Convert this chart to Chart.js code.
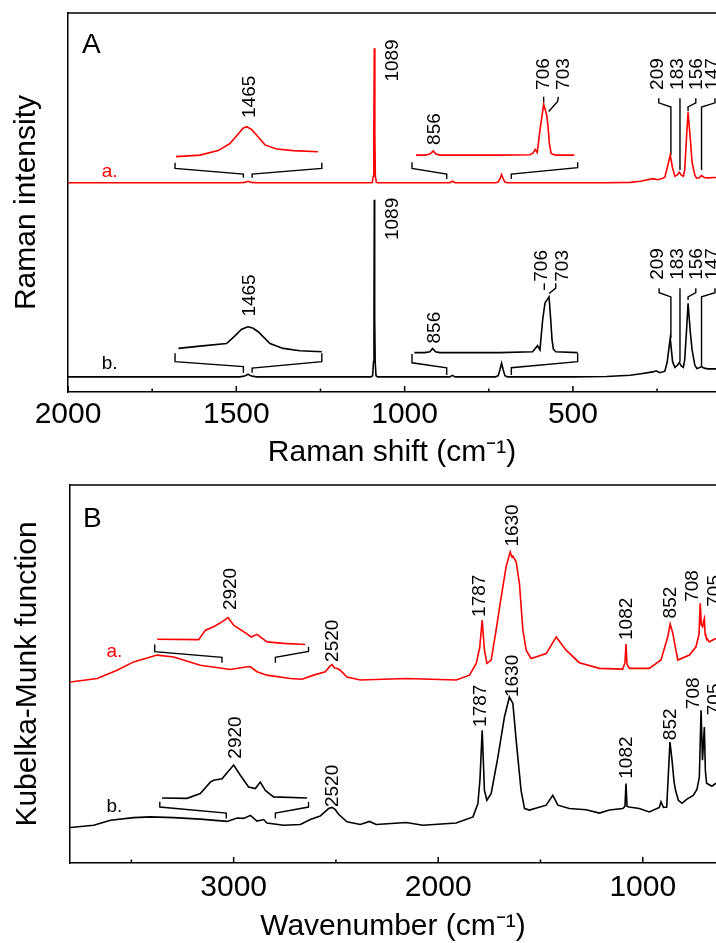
<!DOCTYPE html>
<html>
<head>
<meta charset="utf-8">
<script src="https://cdn.jsdelivr.net/npm/chart.js@4.4.0/dist/chart.umd.min.js"></script>
<style>
  html, body { margin: 0; padding: 0; background: #fff; overflow: hidden; width: 716px; height: 943px; }
  canvas { position: absolute; left: 0; }
  #chartA { top: 0; }
  #chartB { top: 470px; }
</style>
</head>
<body>
<canvas id="chartA" width="716" height="480"></canvas>
<canvas id="chartB" width="716" height="484"></canvas>
<script>
const FONT = '"Liberation Sans", Arial, Helvetica, sans-serif';

// ---------- Panel A : Raman ----------
const ramanTicks = [2000, 1500, 1000, 500];
const ramanMinor = [1750, 1250, 750, 250];

const ramanRedX = [2000, 1700, 1490, 1475, 1465, 1455, 1440, 1200, 1100, 1096, 1093, 1091.5, 1090, 1088.5, 1087, 1084, 1080,
  900, 866, 858, 850, 800, 730, 722, 717, 712, 707, 702, 695, 500, 400, 330, 300, 262, 248, 235, 227, 220, 211, 204, 197,
  190, 184, 178, 172, 168, 163, 158, 151, 146, 138, 133, 125, 118, 110, 100, 75];
const ramanRedY = [55.2, 55.2, 55.2, 55.3, 55.6, 55.3, 55.2, 55.2, 55.2, 55.3, 57.0, 68.0, 90.7, 68.0, 57.0, 55.3, 55.2,
  55.2, 55.2, 55.6, 55.2, 55.2, 55.2, 55.4, 56.2, 57.4, 56.2, 55.4, 55.2, 55.2, 55.2, 55.3, 55.6, 56.3, 56.0, 56.3, 56.7, 59.1, 62.5, 59.1, 56.9,
  57.3, 58.0, 57.2, 56.9, 58.5, 66.5, 73.8, 66.5, 60.5, 57.3, 56.4, 56.5, 57.1, 56.6, 56.5, 56.6];

const ramanBlackX = [2000, 1700, 1490, 1475, 1465, 1455, 1440, 1200, 1100, 1095, 1092.5, 1091, 1090, 1089, 1087.5, 1085, 1080,
  900, 866, 858, 850, 800, 730, 722, 717, 712, 707, 702, 695, 500, 400, 330, 293, 262, 253, 242, 227, 220, 211, 204, 197,
  190, 184, 178, 172, 168, 163, 158, 151, 146, 138, 132, 125, 118, 110, 100, 75];
const ramanBlackY = [4.0, 4.0, 4.0, 4.2, 4.7, 4.2, 4.0, 4.0, 4.0, 4.3, 8.0, 20.0, 50.7, 20.0, 8.0, 4.3, 4.0,
  4.0, 4.0, 4.4, 4.0, 4.0, 4.0, 4.3, 5.8, 7.6, 5.8, 4.3, 4.0, 4.0, 4.1, 4.4, 4.9, 5.3, 5.6, 5.1, 5.5, 7.9, 14.2, 8.0, 6.5,
  7.0, 7.8, 6.9, 6.5, 8.5, 15.5, 23.4, 15.5, 11.1, 7.1, 6.2, 6.4, 6.7, 6.3, 6.1, 6.1];

// magnified insets (drawn at their display position on the axis)
const ramanRedInset1X = [1679, 1608, 1554, 1520, 1495, 1480, 1469, 1455, 1440, 1415, 1380, 1331, 1257];
const ramanRedInset1Y = [62.1, 62.5, 63.7, 65.5, 68.0, 69.6, 70.0, 69.3, 67.8, 65.2, 64.1, 63.7, 63.4];
const ramanRedInset2X = [966, 940, 925, 915, 907, 895, 717, 628, 619, 612, 606, 598, 587, 582, 578, 574, 570, 565, 560, 551, 496];
const ramanRedInset2Y = [62.5, 62.5, 62.8, 63.6, 62.8, 62.5, 62.5, 62.6, 63.0, 64.0, 63.2, 69.1, 75.9, 74.4, 73.1, 70.0, 65.6, 63.0, 62.7, 62.5, 62.5];
const ramanBlackInset1X = [1672, 1608, 1529, 1504, 1485, 1470, 1464, 1450, 1435, 1400, 1361, 1311, 1246];
const ramanBlackInset1Y = [11.5, 12.1, 12.8, 14.8, 16.5, 17.1, 17.2, 16.8, 15.9, 12.8, 11.5, 10.9, 10.6];
const ramanBlackInset2X = [971, 940, 925, 917, 908, 895, 717, 620, 605, 598, 590, 583, 577, 571, 567, 562, 558, 551, 486];
const ramanBlackInset2Y = [10.4, 10.4, 10.6, 11.5, 10.6, 10.4, 10.4, 10.6, 12.2, 11.1, 19.0, 23.5, 24.3, 25.1, 20.3, 13.7, 11.3, 10.6, 10.4];

// brackets and leader lines (null = break)
const ramanRedBracketX = [1682, 1682, 1479, 1479, null, 1453, 1453, 1246, 1246, null, 978, 978, 875, 875, null, 683, 683, 486, 486];
const ramanRedBracketY = [60.5, 59.0, 57.5, 56.5, null, 56.5, 57.5, 59.0, 60.5, null, 60.6, 59.0, 57.5, 56.2, null, 56.2, 57.5, 59.2, 60.6];
const ramanBlackBracketX = [1682, 1682, 1479, 1479, null, 1453, 1453, 1246, 1246, null, 978, 978, 875, 875, null, 683, 683, 486, 486];
const ramanBlackBracketY = [10.2, 8.0, 6.7, 5.1, null, 5.1, 6.3, 8.0, 10.2, null, 10.0, 7.7, 6.4, 4.5, null, 4.5, 6.4, 8.0, 10.2];
const ramanRedLeaderX = [587, 587, null, 543, 546, 572, null, 245, 245, 209, 209, null, 182, 182, null, 135, 135, 158, 158, null, 78, 78, 118, 118];
const ramanRedLeaderY = [77.9, 76.2, null, 77.9, 76.6, 74.0, null, 77.5, 76.3, 75.2, 62.5, null, 77.5, 58.6, null, 77.5, 76.3, 75.2, 74.1, null, 77.5, 76.3, 75.2, 58.6];
const ramanBlackLeaderX = [585, 585, null, 551, 551, 571, null, 244, 244, 209, 209, null, 182, 182, null, 135, 135, 158, 158, null, 78, 78, 118, 118];
const ramanBlackLeaderY = [28.7, 26.9, null, 28.7, 27.4, 26.0, null, 27.4, 26.2, 25.1, 14.2, null, 27.4, 8.0, null, 27.4, 26.2, 25.1, 24.3, null, 27.4, 26.2, 25.1, 6.7];

const ramanPeakText = ['1465', '1089', '856', '706', '703', '209', '183', '156', '147'];
const ramanRedLabelX = [1460, 1036, 911, 588, 526, 247, 188, 133, 84];
const ramanRedLabelY = [72.3, 81.9, 65.2, 79.7, 79.7, 79.7, 79.7, 79.7, 79.7];
const ramanBlackLabelX = [1460, 1036, 911, 593, 531, 247, 188, 133, 84];
const ramanBlackLabelY = [19.9, 40.1, 12.8, 29.1, 29.1, 29.6, 29.6, 29.6, 29.6];
const ramanTagX = [1900, 1900];
const ramanTagY = [56.8, 6.2];

// ---------- Panel B : Kubelka-Munk ----------
const irTicks = [3000, 2000, 1000];
const irMinor = [3500, 2500, 1500];

const irRedX = [3798, 3667, 3570, 3489, 3374, 3293, 3163, 3016, 2935, 2918, 2886, 2837, 2723, 2666, 2609, 2552, 2530, 2519, 2507,
  2495, 2479, 2446, 2381, 2156, 1912, 1847, 1814, 1797, 1785, 1774, 1762, 1741, 1717, 1692, 1668, 1648, 1640, 1635, 1619, 1603,
  1586, 1570, 1546, 1472, 1423, 1375, 1310, 1212, 1098, 1087, 1082, 1077, 1065, 968, 911, 878, 866, 853, 841, 829, 772, 740,
  725, 719, 714, 707, 703, 699, 695, 691, 675, 658, 642];
const irRedY = [47.9, 48.8, 51.0, 53.2, 55.0, 54.5, 52.3, 51.2, 51.9, 51.9, 50.6, 49.7, 48.8, 48.6, 49.7, 50.6, 52.0, 52.5, 51.6,
  51.5, 51.0, 49.2, 48.4, 48.8, 48.4, 49.7, 52.8, 57.0, 64.3, 56.3, 52.8, 53.7, 61.6, 70.4, 78.4, 82.3, 81.0, 81.2, 79.7, 74.0,
  61.6, 56.3, 54.1, 55.4, 59.8, 56.3, 53.0, 51.5, 51.3, 53.0, 57.9, 52.5, 51.5, 51.5, 53.7, 59.8, 63.2, 60.7, 57.2, 53.7, 55.0, 57.2,
  60.5, 68.7, 63.0, 62.5, 64.0, 64.7, 60.5, 59.8, 58.5, 59.0, 59.4];

const irBlackX = [3798, 3684, 3602, 3489, 3407, 3293, 3163, 3032, 2983, 2951, 2918, 2886, 2853, 2837, 2756, 2674, 2625, 2577, 2536,
  2519, 2503, 2487, 2446, 2381, 2336, 2303, 2156, 2075, 1912, 1830, 1806, 1796, 1785, 1774, 1762, 1741, 1708, 1676, 1652, 1635,
  1619, 1595, 1578, 1554, 1472, 1440, 1415, 1359, 1277, 1212, 1163, 1098, 1087, 1082, 1077, 1068, 1017, 968, 919, 911, 899, 883,
  867, 857, 847, 840, 826, 808, 784, 753, 735, 723.5, 715, 708, 699, 694, 688, 662, 642];
const irBlackY = [9.4, 10.0, 11.3, 12.0, 12.2, 12.0, 11.6, 11.0, 11.9, 11.8, 12.6, 11.1, 11.5, 10.6, 10.0, 10.2, 11.5, 12.4, 14.4,
  14.7, 14.1, 12.9, 10.9, 10.2, 11.0, 10.2, 10.7, 10.0, 10.6, 12.2, 15.7, 22.0, 35.1, 19.2, 16.6, 18.4, 28.1, 38.7, 43.9, 42.2,
  32.5, 19.2, 14.4, 14.0, 15.3, 17.9, 15.3, 14.4, 14.1, 13.2, 14.0, 14.4, 15.0, 21.0, 15.0, 14.8, 14.4, 13.5, 14.7, 16.2, 14.7, 14.8,
  32.0, 27.2, 21.4, 19.3, 16.6, 15.8, 16.9, 17.9, 19.5, 22.7, 40.4, 27.2, 36.0, 24.5, 21.1, 20.3, 21.1];

const irRedInsetX = [3374, 3171, 3138, 3098, 3057, 3027, 3000, 2935, 2915, 2886, 2837, 2756, 2650];
const irRedInsetY = [59.2, 59.1, 61.6, 62.5, 63.8, 64.9, 62.9, 60.6, 59.8, 60.5, 58.5, 58.1, 57.8];
const irBlackInsetX = [3350, 3228, 3163, 3114, 3098, 3057, 3000, 2967, 2927, 2894, 2870, 2845, 2805, 2641];
const irBlackInsetY = [17.2, 17.1, 18.4, 21.4, 21.9, 22.3, 25.9, 23.2, 20.1, 19.7, 21.4, 19.2, 17.5, 17.2];
const irRedBracketX = [3386, 3386, 3057, 3057, null, 2796, 2796, 2634, 2634];
const irRedBracketY = [57.8, 55.9, 54.4, 53.0, null, 53.0, 54.4, 56.0, 57.2];
const irBlackBracketX = [3361, 3361, 3036, 3036, null, 2796, 2796, 2634, 2634];
const irBlackBracketY = [16.2, 14.8, 13.2, 11.8, null, 11.8, 13.2, 14.8, 16.2];

const irPeakText = ['2920', '2520', '1787', '1630', '1082', '852', '708', '705'];
const irRedLabelX = [3014, 2515, 1798, 1635, 1078, 863, 756, 647];
const irRedLabelY = [66.9, 53.2, 65.1, 83.7, 59.0, 64.7, 69.1, 67.8];
const irBlackLabelX = [2988, 2515, 1794, 1635, 1078, 863, 752, 647];
const irBlackLabelY = [27.6, 14.8, 36.0, 43.9, 22.3, 32.5, 40.7, 39.1];
const irTagX = [3622, 3622];
const irTagY = [54.5, 13.5];

const tagText = ['a.', 'b.'];
const RED = '#ff0000', BLACK = '#000000';

Chart.defaults.font.family = FONT;
Chart.defaults.color = '#000';

function pts(xs, ys) {
  return xs.map((x, i) => ({ x: x, y: ys[i] }));
}
function line(xs, ys, color, w) {
  return { data: pts(xs, ys), borderColor: color, borderWidth: w, pointRadius: 0, tension: 0, fill: false, spanGaps: false };
}
function join(a, b) { return a.concat([null], b); }

// draws the top frame, inward ticks, rotated peak labels, sample tags and panel letter
function overlay(cfg) {
  return {
    id: 'overlay',
    afterDatasetsDraw(chart) {
      const ctx = chart.ctx, a = chart.chartArea;
      const xs = chart.scales.x, ys = chart.scales.y;
      ctx.save();
      ctx.strokeStyle = '#000';
      ctx.lineWidth = 1.5;
      ctx.beginPath();
      ctx.moveTo(a.left, a.top);
      ctx.lineTo(a.right + 2, a.top);
      cfg.major.forEach(v => {
        const p = xs.getPixelForValue(v);
        ctx.moveTo(p, a.bottom); ctx.lineTo(p, a.bottom - 6);
      });
      cfg.minor.forEach(v => {
        const p = xs.getPixelForValue(v);
        ctx.moveTo(p, a.bottom); ctx.lineTo(p, a.bottom - 3.5);
      });
      ctx.stroke();

      ctx.fillStyle = '#000';
      ctx.font = '19px ' + FONT;
      ctx.textAlign = 'left';
      ctx.textBaseline = 'middle';
      cfg.peaks.forEach(set => {
        set.x.forEach((v, i) => {
          ctx.save();
          ctx.translate(xs.getPixelForValue(v), ys.getPixelForValue(set.y[i]));
          ctx.rotate(-Math.PI / 2);
          ctx.fillText(cfg.text[i], 0, 0);
          ctx.restore();
        });
      });

      ctx.textBaseline = 'alphabetic';
      ctx.font = '19px ' + FONT;
      cfg.tagX.forEach((v, i) => {
        ctx.fillStyle = i === 0 ? RED : BLACK;
        ctx.fillText(tagText[i], xs.getPixelForValue(v), ys.getPixelForValue(cfg.tagY[i]));
      });

      ctx.fillStyle = '#000';
      ctx.font = '28px ' + FONT;
      ctx.fillText(cfg.letter, a.left + cfg.letterDx, a.top + cfg.letterDy);
      ctx.restore();
    }
  };
}

function makeChart(id, o) {
  return new Chart(document.getElementById(id), {
    type: 'line',
    data: { datasets: o.datasets },
    options: {
      responsive: false,
      animation: false,
      events: [],
      layout: { autoPadding: false, padding: { top: o.padTop, left: 0, right: 0, bottom: 0 } },
      plugins: { legend: { display: false }, tooltip: { enabled: false } },
      scales: {
        x: {
          type: 'linear', reverse: true, min: o.xMin, max: o.xMax,
          afterBuildTicks: s => { s.ticks = o.ticks.map(v => ({ value: v })); },
          afterFit: s => { s.height = o.xHeight; },
          grid: { display: false, drawTicks: false },
          border: { display: true, color: '#000', width: 1.5 },
          ticks: { font: { size: 30 }, color: '#000', padding: o.tickPad, maxRotation: 0, autoSkip: false, callback: v => String(v) },
          title: { display: true, text: o.xTitle, font: { size: 30 }, color: '#000', padding: { top: 0, bottom: 9.4 } }
        },
        y: {
          min: 0, max: 100,
          afterFit: s => { s.width = o.yWidth; },
          grid: { display: false, drawTicks: false },
          border: { display: true, color: '#000', width: 1.5 },
          ticks: { display: false },
          title: { display: true, text: o.yTitle, font: { size: 30 }, color: '#000', padding: { top: o.yTitlePad, bottom: 0 } }
        }
      }
    },
    plugins: [overlay(o.overlay)]
  });
}

makeChart('chartA', {
  padTop: 13, xHeight: 88, yWidth: 68, tickPad: 4.6, yTitlePad: 8.3,
  xMin: 75, xMax: 2000, ticks: ramanTicks,
  xTitle: 'Raman shift (cm⁻¹)', yTitle: 'Raman intensity',
  datasets: [
    line(ramanRedX, ramanRedY, RED, 1.6),
    line(ramanBlackX, ramanBlackY, BLACK, 1.6),
    line(join(ramanRedInset1X, ramanRedInset2X), join(ramanRedInset1Y, ramanRedInset2Y), RED, 1.6),
    line(join(ramanBlackInset1X, ramanBlackInset2X), join(ramanBlackInset1Y, ramanBlackInset2Y), BLACK, 1.6),
    line(ramanRedBracketX, ramanRedBracketY, BLACK, 1.4),
    line(ramanBlackBracketX, ramanBlackBracketY, BLACK, 1.4),
    line(ramanRedLeaderX, ramanRedLeaderY, BLACK, 1.4),
    line(ramanBlackLeaderX, ramanBlackLeaderY, BLACK, 1.4)
  ],
  overlay: {
    major: ramanTicks, minor: ramanMinor, text: ramanPeakText,
    peaks: [{ x: ramanRedLabelX, y: ramanRedLabelY }, { x: ramanBlackLabelX, y: ramanBlackLabelY }],
    tagX: ramanTagX, tagY: ramanTagY, letter: 'A', letterDx: 14, letterDy: 40
  }
});

makeChart('chartB', {
  padTop: 15, xHeight: 91, yWidth: 70, tickPad: 6.6, yTitlePad: 9.9,
  xMin: 642, xMax: 3800, ticks: irTicks,
  xTitle: 'Wavenumber (cm⁻¹)', yTitle: 'Kubelka-Munk function',
  datasets: [
    line(irRedX, irRedY, RED, 1.6),
    line(irBlackX, irBlackY, BLACK, 1.6),
    line(irRedInsetX, irRedInsetY, RED, 1.6),
    line(irBlackInsetX, irBlackInsetY, BLACK, 1.6),
    line(irRedBracketX, irRedBracketY, BLACK, 1.4),
    line(irBlackBracketX, irBlackBracketY, BLACK, 1.4)
  ],
  overlay: {
    major: irTicks, minor: irMinor, text: irPeakText,
    peaks: [{ x: irRedLabelX, y: irRedLabelY }, { x: irBlackLabelX, y: irBlackLabelY }],
    tagX: irTagX, tagY: irTagY, letter: 'B', letterDx: 13, letterDy: 42
  }
});
</script>
</body>
</html>
